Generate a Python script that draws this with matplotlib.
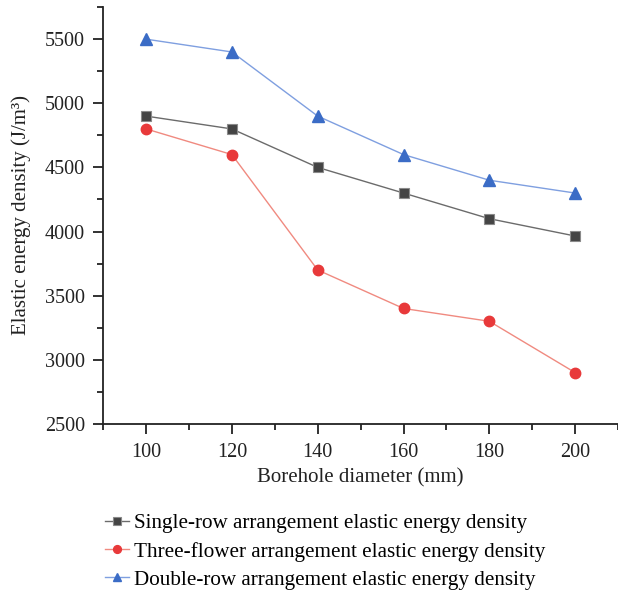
import numpy as np
import matplotlib
matplotlib.use("Agg")
import matplotlib.pyplot as plt
from matplotlib.ticker import MultipleLocator

plt.rcParams['font.family'] = ['Liberation Serif', 'DejaVu Serif']

# borehole diameter (mm)
diameter = [100, 120, 140, 160, 180, 200]
# elastic energy density (J/m^3)
single_row = [4900, 4800, 4500, 4300, 4100, 3965]
three_flower = [4800, 4600, 3700, 3400, 3300, 2900]
double_row = [5500, 5400, 4900, 4600, 4400, 4300]

labels = ['Single-row arrangement elastic energy density',
          'Three-flower arrangement elastic energy density',
          'Double-row arrangement elastic energy density']

fig = plt.figure(figsize=(6.18, 5.92), dpi=100)
ax = fig.add_axes([0.167, 0.284, 0.833, 0.704])

ax.plot(diameter, single_row, color='#6b6b6b', lw=1, marker='s', ms=7,
        mfc='#444444', mec='#8a8a8a', mew=0.8, label=labels[0])
ax.plot(diameter, three_flower, color='#f08a80', lw=1, marker='o', ms=7.5,
        mfc='#e8393a', mec='#e8393a', label=labels[1])
ax.plot(diameter, double_row, color='#7f9fe0', lw=1, marker='^', ms=8.5,
        mfc='#3b6cc6', mec='#3b6cc6', label=labels[2])

ax.set_xlim(90, 210)
ax.set_ylim(2500, 5750)
ax.xaxis.set_major_locator(MultipleLocator(20))
ax.xaxis.set_minor_locator(MultipleLocator(10))
ax.yaxis.set_major_locator(MultipleLocator(500))
ax.yaxis.set_minor_locator(MultipleLocator(250))

for s in ['top', 'right']:
    ax.spines[s].set_visible(False)
for s in ['left', 'bottom']:
    ax.spines[s].set_linewidth(1.3)
    ax.spines[s].set_color('#222222')

ax.tick_params(which='major', direction='out', length=7, width=1.3,
               labelsize=14.5, colors='#222222')
ax.tick_params(which='minor', direction='out', length=4.5, width=1.3, colors='#222222')
ax.tick_params(axis='x', pad=7)
ax.tick_params(axis='y', pad=6)

ax.set_xlabel('Borehole diameter (mm)', fontsize=15, color='#222222', labelpad=4)
ax.set_ylabel('Elastic energy density (J/m³)', fontsize=15, color='#222222', labelpad=10)

fig.legend(loc='upper left', bbox_to_anchor=(0.157, 0.147), frameon=False,
           fontsize=15.2, handlelength=1.1, handletextpad=0.25, labelspacing=0.4,
           borderaxespad=0, markerscale=0.75)

fig.savefig('out.png', dpi=100)
